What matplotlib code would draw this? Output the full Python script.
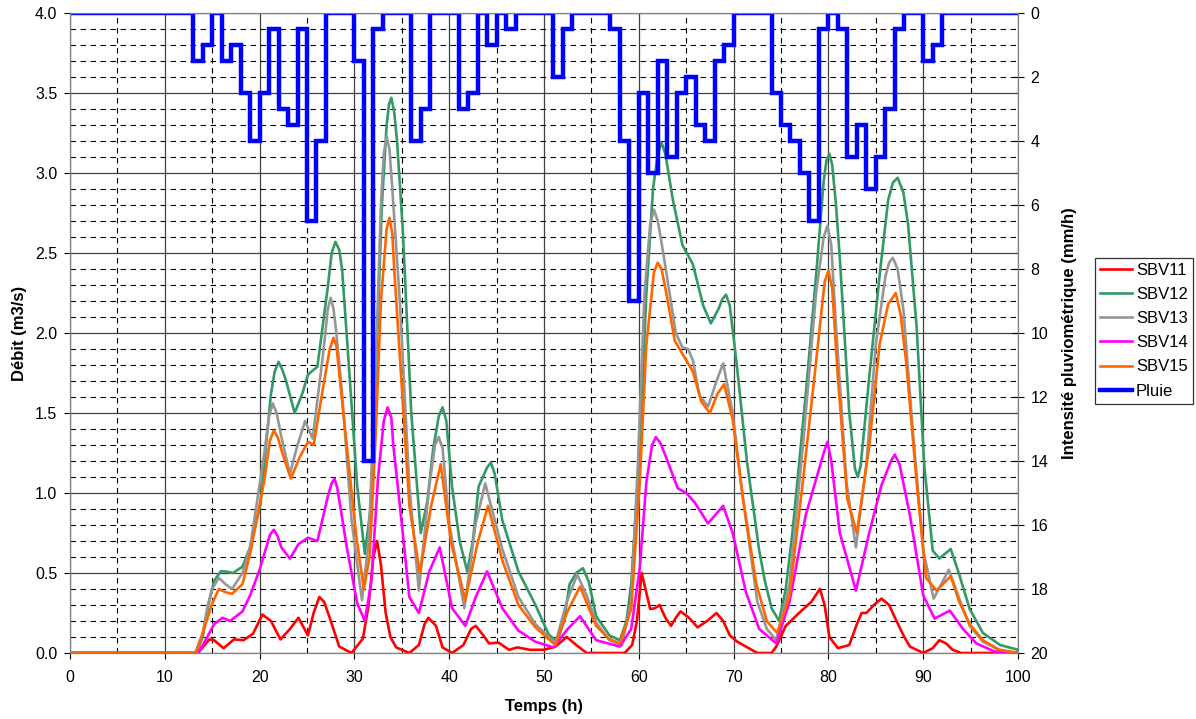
"""Hydrogrammes des sous-bassins SBV11-SBV15 avec hyetogramme de pluie."""

import numpy as np
import matplotlib
matplotlib.use("Agg")
import matplotlib.pyplot as plt
from matplotlib.ticker import MultipleLocator, FormatStrFormatter

plt.rcParams["font.family"] = ["Liberation Sans", "DejaVu Sans"]

# Débits : (temps h, débit m3/s)
SBV11 = [(0, 0), (13.5, 0), (14.7, 0.085), (15.2, 0.08), (16.2, 0.03), (17.3, 0.085),
         (18.3, 0.08), (19.3, 0.12), (20.3, 0.24), (21.2, 0.20), (22.2, 0.085), (23.2, 0.15),
         (24.1, 0.22), (25.1, 0.11), (25.7, 0.25), (26.3, 0.35), (26.8, 0.32), (27.4, 0.22),
         (28.4, 0.04), (29.7, 0.0), (30.9, 0.09), (31.5, 0.3), (32.0, 0.6), (32.4, 0.70),
         (32.8, 0.55), (33.3, 0.25), (33.8, 0.1), (34.4, 0.035), (35.8, 0.0), (36.8, 0.05),
         (37.4, 0.18), (37.8, 0.22), (38.6, 0.17), (39.3, 0.035), (40.3, 0.0), (41.5, 0.05),
         (42.3, 0.15), (42.8, 0.17), (43.6, 0.11), (44.2, 0.06), (45.2, 0.065), (46.3, 0.02),
         (47.2, 0.035), (48.5, 0.02), (50.0, 0.02), (51.2, 0.04), (52.4, 0.10), (53.4, 0.05),
         (54.5, 0.0), (58.5, 0.0), (59.3, 0.05), (59.8, 0.2), (60.3, 0.50), (60.7, 0.40),
         (61.2, 0.275), (61.7, 0.28), (62.2, 0.30), (62.8, 0.22), (63.4, 0.17), (63.9, 0.22),
         (64.4, 0.26), (65.3, 0.22), (66.2, 0.16), (67.2, 0.2), (68.2, 0.25), (68.9, 0.2),
         (69.6, 0.11), (70.4, 0.07), (71.3, 0.04), (72.5, 0.0), (74.0, 0.0), (74.5, 0.04),
         (75.5, 0.17), (76.9, 0.25), (78.2, 0.32), (79.1, 0.40), (79.6, 0.30), (80.1, 0.10),
         (81.0, 0.03), (82.2, 0.05), (83.0, 0.18), (83.5, 0.25), (84.0, 0.25), (84.8, 0.30),
         (85.6, 0.34), (86.4, 0.30), (87.1, 0.21), (88.0, 0.1), (88.6, 0.04), (90.0, 0.0),
         (91.0, 0.03), (91.7, 0.08), (92.4, 0.06), (93.1, 0.02), (94.0, 0.0), (100, 0.0)]

SBV12 = [(0, 0), (13.3, 0), (14.0, 0.1), (14.6, 0.3), (15.2, 0.45), (15.9, 0.51), (16.4, 0.51),
         (17.2, 0.50), (18.2, 0.54), (19.0, 0.66), (20.1, 0.93), (21.2, 1.62), (21.6, 1.76),
         (22.0, 1.82), (22.4, 1.77), (22.8, 1.70), (23.7, 1.50), (24.5, 1.62), (25.1, 1.74),
         (26.1, 1.79), (27.2, 2.29), (27.6, 2.50), (28.0, 2.57), (28.4, 2.52), (28.7, 2.40),
         (29.2, 1.98), (30.3, 1.04), (31.1, 0.62), (31.7, 0.9), (32.3, 1.8), (32.9, 2.8),
         (33.4, 3.3), (33.65, 3.43), (33.9, 3.47), (34.2, 3.38), (34.5, 3.2), (35.1, 2.65),
         (36.0, 1.50), (37.0, 0.75), (37.7, 0.95), (38.3, 1.27), (38.9, 1.48), (39.3, 1.535),
         (39.7, 1.45), (40.3, 1.04), (41.1, 0.7), (41.9, 0.51), (42.5, 0.7), (43.1, 1.04),
         (44.0, 1.16), (44.4, 1.19), (44.8, 1.12), (45.6, 0.83), (47.3, 0.51), (49.1, 0.30),
         (50.5, 0.115), (51.4, 0.07), (52.1, 0.2), (52.7, 0.43), (53.4, 0.5), (54.1, 0.53),
         (54.7, 0.45), (55.5, 0.23), (56.9, 0.11), (58.0, 0.08), (58.7, 0.2), (59.2, 0.43),
         (60.0, 1.18), (60.8, 2.25), (61.5, 2.90), (62.0, 3.12), (62.4, 3.19), (62.8, 3.12),
         (63.6, 2.83), (64.6, 2.55), (65.7, 2.43), (66.8, 2.17), (67.6, 2.06), (68.4, 2.15),
         (68.8, 2.21), (69.2, 2.24), (69.6, 2.17), (70.3, 1.82), (71.4, 1.2), (72.7, 0.64),
         (73.3, 0.45), (74.0, 0.28), (74.8, 0.2), (75.5, 0.4), (76.2, 0.75), (77.6, 1.61),
         (78.7, 2.36), (79.5, 2.95), (79.8, 3.08), (80.1, 3.12), (80.4, 3.05), (80.8, 2.8),
         (81.2, 2.47), (82.2, 1.50), (82.8, 1.15), (83.1, 1.10), (83.4, 1.17), (84.3, 1.72),
         (85.4, 2.36), (86.3, 2.83), (86.8, 2.94), (87.3, 2.97), (87.9, 2.88), (88.4, 2.68),
         (89.3, 2.04), (90.1, 1.18), (91.0, 0.64), (91.7, 0.59), (92.9, 0.65), (93.8, 0.49),
         (94.9, 0.275), (96.3, 0.125), (98.1, 0.05), (100, 0.02)]

SBV13 = [(0, 0), (13.2, 0), (14.0, 0.12), (14.5, 0.29), (15.0, 0.40), (15.7, 0.47), (16.4, 0.43),
         (17.1, 0.40), (18.2, 0.50), (19.0, 0.66), (20.0, 1.05), (20.5, 1.25), (21.0, 1.48),
         (21.4, 1.56), (21.8, 1.50), (22.3, 1.35), (23.2, 1.12), (24.0, 1.30), (24.8, 1.45),
         (25.6, 1.34), (26.7, 1.87), (27.2, 2.15), (27.5, 2.22), (27.8, 2.15), (28.1, 2.0),
         (28.7, 1.62), (29.7, 0.83), (30.8, 0.33), (31.5, 0.7), (32.2, 1.7), (32.8, 2.8),
         (33.1, 3.12), (33.4, 3.23), (33.7, 3.15), (34.0, 2.9), (34.8, 2.19), (35.8, 1.04),
         (36.8, 0.39), (37.9, 1.04), (38.5, 1.30), (38.9, 1.35), (39.3, 1.28), (40.0, 0.81),
         (41.6, 0.28), (42.8, 0.81), (43.8, 1.06), (45.6, 0.65), (47.3, 0.35), (49.1, 0.18),
         (51.2, 0.06), (52.4, 0.32), (53.5, 0.49), (54.5, 0.36), (55.5, 0.19), (56.9, 0.08),
         (58.2, 0.05), (59.2, 0.32), (59.9, 1.18), (60.6, 2.25), (61.2, 2.68), (61.6, 2.77),
         (62.0, 2.70), (62.3, 2.6), (62.9, 2.38), (63.9, 2.0), (64.6, 1.91), (65.2, 1.90),
         (65.7, 1.83), (66.4, 1.61), (67.3, 1.54), (68.2, 1.70), (68.9, 1.81), (69.9, 1.50),
         (71.0, 0.96), (72.5, 0.32), (73.5, 0.15), (74.5, 0.08), (75.9, 0.43), (77.3, 1.29),
         (78.7, 2.25), (79.5, 2.60), (79.9, 2.67), (80.3, 2.55), (80.8, 2.04), (81.9, 1.07),
         (82.9, 0.66), (84.0, 1.18), (85.0, 1.93), (86.0, 2.35), (86.4, 2.44), (86.8, 2.47),
         (87.3, 2.40), (87.9, 2.15), (88.9, 1.39), (90.0, 0.64), (91.1, 0.34), (92.7, 0.52),
         (93.8, 0.34), (94.9, 0.17), (96.3, 0.07), (98.0, 0.02), (100, 0.0)]

SBV14 = [(0, 0), (13.5, 0), (14.3, 0.08), (15.2, 0.18), (16.1, 0.22), (16.9, 0.20), (18.2, 0.26),
         (19.0, 0.36), (20.0, 0.52), (20.5, 0.62), (21.1, 0.74), (21.5, 0.77), (21.9, 0.73),
         (22.3, 0.66), (23.2, 0.59), (24.1, 0.68), (25.1, 0.72), (26.1, 0.70), (27.2, 0.98),
         (27.6, 1.06), (27.9, 1.09), (28.2, 1.03), (28.5, 0.92), (29.2, 0.66), (30.3, 0.31),
         (31.1, 0.20), (31.8, 0.45), (32.5, 1.1), (33.1, 1.45), (33.5, 1.535), (33.9, 1.47),
         (34.1, 1.3), (34.8, 0.92), (35.8, 0.35), (36.8, 0.25), (37.9, 0.51), (39.0, 0.66),
         (40.3, 0.28), (41.7, 0.17), (42.8, 0.35), (44.0, 0.51), (45.6, 0.28), (47.3, 0.14),
         (49.1, 0.07), (51.0, 0.035), (52.5, 0.15), (53.8, 0.23), (54.7, 0.15), (55.5, 0.08),
         (58.0, 0.04), (59.2, 0.15), (60.1, 0.53), (60.8, 1.07), (61.4, 1.30), (61.8, 1.35),
         (62.3, 1.31), (62.9, 1.22), (64.1, 1.03), (65.0, 1.00), (65.9, 0.94), (67.3, 0.81),
         (68.9, 0.92), (69.9, 0.75), (71.3, 0.38), (72.7, 0.15), (74.5, 0.06), (75.9, 0.32),
         (77.6, 0.86), (79.5, 1.25), (79.9, 1.32), (80.3, 1.20), (81.2, 0.75), (82.9, 0.39),
         (84.3, 0.75), (85.6, 1.05), (86.6, 1.20), (87.0, 1.24), (87.5, 1.18), (88.6, 0.86),
         (90.0, 0.36), (91.2, 0.215), (92.8, 0.265), (94.2, 0.15), (95.6, 0.06), (97.5, 0.01),
         (100, 0.0)]

SBV15 = [(0, 0), (13.3, 0), (14.3, 0.18), (15.0, 0.31), (15.7, 0.40), (16.4, 0.38), (17.1, 0.37),
         (18.2, 0.43), (19.0, 0.62), (20.5, 1.08), (21.1, 1.33), (21.5, 1.39), (21.9, 1.35),
         (22.4, 1.25), (23.3, 1.09), (24.2, 1.22), (25.1, 1.32), (25.7, 1.30), (26.7, 1.66),
         (27.4, 1.90), (27.8, 1.97), (28.1, 1.92), (28.4, 1.75), (29.1, 1.35), (30.2, 0.73),
         (31.0, 0.40), (31.6, 0.6), (32.2, 1.3), (32.8, 2.2), (33.4, 2.65), (33.7, 2.72),
         (34.0, 2.62), (34.2, 2.4), (34.8, 1.85), (35.8, 0.92), (36.9, 0.50), (38.1, 0.92),
         (39.1, 1.18), (40.2, 0.69), (41.7, 0.33), (43.0, 0.69), (44.1, 0.92), (45.6, 0.58),
         (47.3, 0.30), (49.1, 0.16), (51.2, 0.05), (52.4, 0.25), (53.8, 0.415), (54.6, 0.3),
         (55.5, 0.17), (56.8, 0.09), (58.0, 0.06), (59.2, 0.275), (60.1, 1.07), (60.8, 1.93),
         (61.6, 2.38), (62.0, 2.44), (62.4, 2.40), (62.9, 2.25), (63.8, 1.95), (64.6, 1.87),
         (65.7, 1.76), (66.6, 1.57), (67.5, 1.50), (68.3, 1.62), (69.0, 1.68), (69.9, 1.46),
         (71.0, 0.96), (72.4, 0.43), (73.5, 0.2), (74.6, 0.125), (75.9, 0.36), (77.3, 1.07),
         (78.7, 1.82), (79.6, 2.32), (80.0, 2.39), (80.4, 2.28), (81.0, 1.72), (82.0, 0.96),
         (83.0, 0.75), (84.3, 1.29), (85.4, 1.93), (86.3, 2.18), (87.1, 2.25), (87.6, 2.12),
         (88.2, 1.82), (89.3, 1.07), (90.3, 0.47), (91.4, 0.39), (92.9, 0.48), (93.8, 0.32),
         (94.9, 0.18), (96.3, 0.08), (98.0, 0.02), (100, 0.0)]

# Pluie horaire (mm/h), heure 0 à 99
pluie = [0] * 13 + [1.5, 1.0, 0, 1.5, 1.0, 2.5, 4.0, 2.5, 0.5, 3.0, 3.5, 0.5, 6.5, 4.0,
                    0, 0, 0, 1.5, 14, 0.5, 0, 0, 0, 4.0, 3.0, 0, 0, 0, 3.0, 2.5, 0, 1.0,
                    0, 0.5, 0, 0, 0, 0, 2.0, 0.5, 0, 0, 0, 0, 0.5, 4.0, 9.0, 2.5, 5.0, 1.5,
                    4.5, 2.5, 2.0, 3.5, 4.0, 1.5, 1.0, 0, 0, 0, 0, 2.5, 3.5, 4.0, 5.0, 6.5,
                    0.5, 0, 0.5, 4.5, 3.5, 5.5, 4.5, 3.0, 0.5, 0, 0, 1.5, 1.0] + [0] * 8

series = [
    ("SBV11", SBV11, "#FF0000"),
    ("SBV12", SBV12, "#339966"),
    ("SBV13", SBV13, "#969696"),
    ("SBV14", SBV14, "#FF00FF"),
    ("SBV15", SBV15, "#FF6600"),
]

fig = plt.figure(figsize=(11.96, 7.19), dpi=100)
ax = fig.add_axes([0.0585, 0.0918, 0.7927, 0.8901])

handles = []
for nom, donnees, couleur in series:
    arr = np.array(donnees)
    (ligne,) = ax.plot(arr[:, 0], arr[:, 1], color=couleur, linewidth=1.9, label=nom,
                       solid_joinstyle="round", zorder=3)
    handles.append(ligne)

ax.set_xlim(0, 100)
ax.set_ylim(0, 4)
ax.xaxis.set_major_locator(MultipleLocator(10))
ax.xaxis.set_minor_locator(MultipleLocator(5))
ax.yaxis.set_major_locator(MultipleLocator(0.5))
ax.yaxis.set_minor_locator(MultipleLocator(0.1))
ax.yaxis.set_major_formatter(FormatStrFormatter("%.1f"))

# Quadrillage : traits pleins majeurs, tirets mineurs
ax.grid(True, which="major", color="#404040", linewidth=0.9, linestyle="-", zorder=0)
ax.grid(True, which="minor", color="black", linewidth=0.8, linestyle=(0, (5, 4)), zorder=0)
ax.set_axisbelow(True)
ax.tick_params(axis="both", which="major", labelsize=11.5, direction="out", length=4)
ax.tick_params(axis="x", which="major", pad=8)
ax.tick_params(axis="y", which="major", pad=5)
ax.tick_params(axis="both", which="minor", length=0)
for sp in ax.spines.values():
    sp.set_color("#808080")

ax.set_xlabel("Temps (h)", fontsize=12, fontweight="bold", labelpad=10)
ax.set_ylabel("Débit (m3/s)", fontsize=12, fontweight="bold", labelpad=6)

# Hyétogramme sur l'axe secondaire inversé
ax2 = ax.twinx()
heures = np.arange(len(pluie) + 1)
(ligne_pluie,) = ax2.step(heures, pluie + [pluie[-1]], where="post", color="#0000FF",
                          linewidth=3.2, label="Pluie", solid_joinstyle="miter")
handles.append(ligne_pluie)
ax2.set_ylim(20, 0)
ax2.yaxis.set_major_locator(MultipleLocator(2))
ax2.tick_params(axis="y", labelsize=11.5, direction="inout", length=8, pad=5)
ax2.set_ylabel("Intensité pluviométrique (mm/h)", fontsize=12, fontweight="bold", labelpad=10)
for sp in ax2.spines.values():
    sp.set_color("#808080")

leg = fig.legend(handles=handles, loc="upper left", bbox_to_anchor=(0.9155, 0.6415),
                 borderaxespad=0, fontsize=12, frameon=True, fancybox=False,
                 handlelength=1.95, handletextpad=0.22, borderpad=0.3, labelspacing=0.55)
leg.get_frame().set_edgecolor("black")
leg.get_frame().set_linewidth(0.9)

fig.savefig("out.png", dpi=100, facecolor="white")
plt.close(fig)
